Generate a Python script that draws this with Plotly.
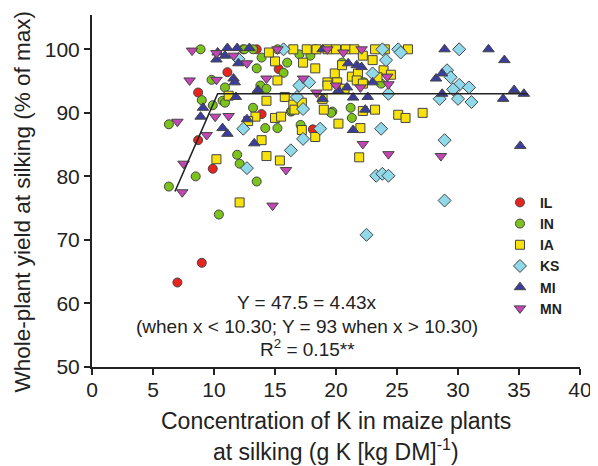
import numpy as np
import plotly.graph_objects as go

# ---- data ----
IL_x = [7.0, 9.0, 8.7, 8.7, 9.9, 11.1, 13.9, 15.3, 13.5, 12.4, 18.1]
IL_y = [63.3, 66.4, 93.2, 85.7, 81.2, 96.4, 89.8, 96.9, 100, 100, 87.4]

IN_x = [8.9, 9.8, 9.0, 9.9, 6.3, 8.5, 6.3, 13.5, 10.4, 10.7, 13.9, 13.8, 13.2, 14.2, 15.2, 16.0,
        15.7, 16.3, 11.9, 12.1, 15.2, 14.3, 20.5, 19.7, 21.2, 21.3, 22.3, 23.7, 13.5, 17.9, 19.6,
        17.1, 16.4, 10.9, 10.9, 12.5, 13.2, 18.3, 17.0]
IN_y = [100, 95.2, 92.0, 91.2, 88.2, 80.0, 78.4, 79.2, 74.0, 91.9, 98.7, 94.3, 90.8, 87.6, 87.6, 97.9,
        96.3, 90.2, 83.4, 82.0, 100, 93.8, 97.9, 90.2, 90.8, 89.2, 94.8, 94.6, 97.0, 99.0, 90.0,
        88.1, 90.3, 91.6, 94.0, 100, 100, 100, 99.2]

IA_x = [12.1, 10.2, 15.0, 17.3, 18.3, 17.6, 18.4, 15.2, 14.3, 15.8, 16.5, 16.6, 17.2, 13.4, 12.8,
        15.0, 15.5, 17.2, 18.3, 13.9, 14.3, 15.4, 18.9, 19.0, 19.3, 11.2, 19.3, 20.0, 20.8, 23.2,
        24.0, 25.9, 23.0, 22.2, 23.9, 21.3, 21.8, 23.4, 19.9, 19.3, 20.1, 20.7, 21.7, 22.2, 22.2,
        23.2, 22.0, 20.2, 25.1, 25.7, 27.1, 21.9, 16.5, 21.5, 24.5, 14.5, 20.5]
IA_y = [75.9, 82.7, 98.1, 97.9, 97.0, 100, 100, 95.1, 91.9, 92.5, 91.3, 90.5, 91.6, 89.4, 88.7,
        89.2, 89.4, 87.3, 86.2, 85.7, 83.2, 82.5, 92.2, 90.5, 94.8, 92.7, 100, 100, 100, 100,
        100, 100, 98.3, 99.0, 96.7, 95.7, 96.2, 95.6, 96.2, 94.3, 94.8, 93.8, 95.1, 94.6, 90.3,
        90.5, 87.6, 88.3, 89.7, 89.2, 90.0, 83.0, 100, 100, 96.0, 99.5, 97.5]

KS_x = [15.7, 12.4, 12.7, 16.3, 17.0, 17.8, 16.8, 17.3, 17.3, 23.8, 25.1, 25.3, 24.1, 23.0, 24.3,
        23.7, 18.7, 28.9, 23.3, 23.8, 24.3, 28.5, 29.1, 30.1, 29.4, 30.1, 30.9, 29.6, 30.0, 31.1,
        22.5, 28.9, 12.0]
KS_y = [100, 87.5, 81.3, 84.1, 94.3, 94.8, 92.5, 90.6, 85.9, 100, 100, 99.5, 98.3, 96.2, 93.0,
        87.5, 87.5, 85.7, 80.1, 80.4, 80.1, 92.2, 96.7, 100, 95.6, 94.4, 94.0, 93.7, 92.2, 91.7,
        70.8, 76.2, 98.5]

MI_x = [9.1, 8.9, 10.2, 10.3, 11.1, 10.9, 11.6, 10.7, 11.1, 11.9, 12.9, 12.0, 11.7, 13.6, 11.8,
        12.7, 13.3, 18.9, 18.9, 28.9, 21.0, 21.7, 22.1, 23.0, 21.4, 22.6, 22.4, 21.4, 20.2, 20.9,
        32.5, 33.8, 28.2, 28.7, 28.7, 33.7, 34.6, 35.4, 35.1]
MI_y = [90.8, 89.4, 98.4, 99.5, 100.2, 99.0, 95.4, 87.6, 86.7, 100.2, 100.2, 97.8, 94.8, 93.6, 92.5,
        89.0, 85.2, 92.2, 100, 100, 97.8, 97.5, 97.2, 94.8, 92.4, 92.5, 90.5, 87.3, 93.5, 94.0,
        100, 98.3, 95.4, 96.2, 93.0, 92.2, 93.6, 93.0, 84.8]

MN_x = [8.2, 10.2, 8.0, 10.2, 7.0, 10.1, 9.4, 7.5, 7.4, 14.8, 11.6, 12.7, 15.2, 14.3, 17.3, 15.9,
        18.4, 19.3, 20.6, 22.1, 20.0, 22.0, 24.2, 24.3, 22.2, 24.3, 28.6, 11.2]
MN_y = [99.8, 99.4, 95.1, 95.2, 88.6, 89.4, 86.5, 82.0, 77.5, 75.4, 99.0, 97.8, 100, 95.4, 95.4, 81.0,
        93.2, 100, 99.5, 100, 94.3, 94.0, 95.7, 94.5, 85.1, 83.5, 83.2, 89.5]

states = ["IL", "IN", "IA", "KS", "MI", "MN"]
xs = [IL_x, IN_x, IA_x, KS_x, MI_x, MN_x]
ys = [IL_y, IN_y, IA_y, KS_y, MI_y, MN_y]
colors = ["#e8241f", "#7cc41c", "#f7e20c", "#8fd9ea", "#3b3d9c", "#c446b6"]
symbols = ["circle", "circle", "square", "diamond", "triangle-up", "triangle-down"]
sizes = [9, 9, 9, 10, 10, 10]

tick_x = [0, 5, 10, 15, 20, 25, 30, 35, 40]
tick_y = [50, 60, 70, 80, 90, 100]

# linear-plateau model from the annotation
a, b, joint, plateau = 47.5, 4.43, 10.30, 93
fit_x = np.array([6.8, joint, 35.7])
fit_y = np.minimum(a + b * fit_x, plateau)
fit_y[1:] = plateau

FONT = "Arial, Liberation Sans, sans-serif"
TXT = "#222222"

fig = go.Figure()
for s, x, y, c, sym, sz in zip(states, xs, ys, colors, symbols, sizes):
    fig.add_trace(go.Scatter(
        x=x, y=y, mode="markers", name="<b>" + s + "</b>",
        marker=dict(symbol=sym, size=sz, color=c, line=dict(color="#444444", width=1)),
    ))

fig.add_trace(go.Scatter(x=fit_x, y=fit_y, mode="lines", showlegend=False,
                         line=dict(color="#222222", width=1.6)))

# equation text
for yy, txt in [(60.1, "Y = 47.5 = 4.43x"),
                (56.3, "(when x < 10.30; Y = 93 when x > 10.30)"),
                (53.0, "R<sup>2</sup> = 0.15**")]:
    fig.add_annotation(x=17.66, y=yy, xref="x", yref="y", showarrow=False,
                       text=txt, font=dict(size=19, color=TXT, family=FONT))

# axis titles
fig.add_annotation(x=0.5, y=-0.153, xref="paper", yref="paper", showarrow=False,
                   xanchor="center", yanchor="middle",
                   text="Concentration of K in maize plants", font=dict(size=23, color=TXT, family=FONT))
fig.add_annotation(x=0.5, y=-0.236, xref="paper", yref="paper", showarrow=False,
                   xanchor="center", yanchor="middle",
                   text="at silking (g K [kg DM]<sup>-1</sup>)", font=dict(size=23, color=TXT, family=FONT))
fig.add_annotation(x=-0.143, y=0.468, xref="paper", yref="paper", showarrow=False,
                   xanchor="center", yanchor="middle", textangle=-90,
                   text="Whole-plant yield at silking (% of max)", font=dict(size=22.5, color=TXT, family=FONT))

# page body has an 8px margin, so the figure is offset by 8px; compensate in margins
fig.update_layout(
    width=598, height=466,
    margin=dict(l=84, r=26, t=7, b=107, autoexpand=False),
    paper_bgcolor="white", plot_bgcolor="white",
    font=dict(family=FONT, color=TXT),
    legend=dict(x=0.836, y=0.512, xanchor="left", yanchor="top",
                font=dict(size=14, family=FONT, color=TXT),
                bgcolor="rgba(0,0,0,0)", itemsizing="trace", tracegroupgap=0),
    xaxis=dict(range=[0, 40], tickvals=tick_x,
               showgrid=False, zeroline=False, showline=True, linecolor="#222", linewidth=2,
               ticks="outside", ticklen=6, tickwidth=2, tickcolor="#222",
               ticklabelstandoff=-3,
               tickfont=dict(size=21)),
    yaxis=dict(range=[50, 105.4], tickvals=tick_y,
               showgrid=False, zeroline=False, showline=True, linecolor="#222", linewidth=2,
               ticks="outside", ticklen=6, tickwidth=2, tickcolor="#222",
               tickfont=dict(size=21)),
)

fig.write_html("out.html")
